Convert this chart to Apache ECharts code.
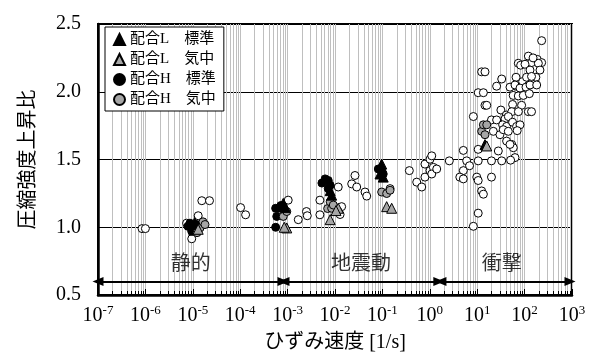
<!DOCTYPE html>
<html>
<head>
<meta charset="utf-8">
<script src="https://cdn.jsdelivr.net/npm/echarts@6/dist/echarts.min.js"></script>
<style>
  html, body { margin: 0; padding: 0; background: #fff; }
  #chart { width: 589px; height: 358px; }
</style>
</head>
<body>
<div id="chart"></div>
<script>
// Strain-rate dependence of compressive strength (ratio to static strength)

// Series names as shown in the legend
const nameLStd = '配合L　標準';
const nameLAir = '配合L　気中';
const nameHStd = '配合H　標準';
const nameHAir = '配合H　気中';

// [strain rate (1/s), strength ratio]
const mixLStd = [
  [1.1e-5, 1.035], [8.1e-4, 1.176], [9.0e-4, 1.145],
  [8.5e-3, 1.237], [7.9e-3, 1.27],
  [0.0966, 1.466], [0.089, 1.393], [0.104, 1.37],
  [14.6, 1.61]
];
const mixLAir = [
  [1.3e-5, 0.985], [9.6e-4, 0.995], [8.5e-4, 1.0],
  [7.9e-3, 1.056], [0.0117, 1.14], [0.0105, 1.123],
  [0.123, 1.152], [0.157, 1.14],
  [15.9, 1.6]
];
const mixHStd = [
  [7.9e-6, 1.007], [8.7e-6, 1.03], [9.5e-6, 0.97], [1.03e-5, 0.995], [1.21e-5, 1.02],
  [5.6e-4, 1.0], [5.6e-4, 1.14], [5.9e-4, 1.08], [6.4e-4, 1.14], [7.2e-4, 1.16],
  [5.3e-3, 1.326], [6.2e-3, 1.357], [7.2e-3, 1.345], [7.2e-3, 1.285], [7.9e-3, 1.31],
  [0.082, 1.43], [0.0966, 1.418], [0.104, 1.393]
];
const mixHAir = [
  [1.23e-5, 0.96], [1.42e-5, 0.995], [1.64e-5, 1.04], [1.81e-5, 1.02],
  [8.1e-4, 1.08], [9.6e-4, 1.116],
  [7.0e-3, 1.138], [7.9e-3, 1.188], [8.5e-3, 1.14], [9.2e-3, 1.164],
  [0.0966, 1.26], [0.123, 1.249], [0.145, 1.273],
  [12.4, 1.708], [13.5, 1.756], [14.6, 1.683], [15.9, 1.756]
];
// Published test results
const refData = [
  [8.5e-7, 0.99], [1.0e-6, 0.99],
  [7.4e-6, 1.03], [9.5e-6, 0.915], [1.3e-5, 1.085], [1.55e-5, 1.196], [2.25e-5, 1.196],
  [1.02e-4, 1.145], [1.3e-4, 1.092],
  [1.03e-3, 1.2], [1.68e-3, 1.056], [2.5e-3, 1.116], [2.6e-3, 1.085],
  [4.8e-3, 1.2], [4.8e-3, 1.092], [0.0117, 1.297], [0.0138, 1.152], [0.0117, 1.116], [0.0128, 1.094],
  [0.0225, 1.32], [0.0264, 1.382], [0.0287, 1.297], [0.043, 1.26], [0.0467, 1.23],
  [0.145, 1.285],
  [0.37, 1.418], [0.53, 1.333], [0.676, 1.297], [0.79, 1.37], [0.79, 1.466], [1.01, 1.502],
  [1.1, 1.527], [1.01, 1.418], [1.19, 1.442], [1.1, 1.393], [1.4, 1.43],
  [2.58, 1.49], [5.1, 1.567], [5.1, 1.418], [4.3, 1.37], [5.1, 1.357], [6.0, 1.49], [6.9, 1.454],
  [8.3, 1.817], [9.8, 1.37], [10.5, 1.345], [10.5, 1.575], [10.5, 1.49], [12.4, 1.268],
  [13.5, 1.244], [10.5, 1.104], [8.3, 1.007],
  [14.6, 1.9], [15.9, 1.9],
  [20, 1.37], [20, 1.49], [32.9, 1.49], [27.9, 1.563], [21.9, 1.708], [30.2, 1.683],
  [20, 1.792], [25.7, 1.792],
  [229, 2.377], [120, 2.263], [73.6, 2.21], [82.6, 2.196], [140, 2.215], [185, 2.239],
  [229, 2.215], [195, 2.21], [151, 2.25], [102, 2.203], [130, 2.16], [211, 2.16],
  [12.4, 2.147], [14.6, 2.147], [32.9, 2.094], [25.7, 2.041],
  [66, 2.107], [91, 2.075], [66, 2.041], [110, 2.107], [173, 2.107], [140, 2.113], [120, 2.046],
  [49.2, 2.034], [62.7, 2.05], [80, 2.027], [107, 2.034], [130, 2.05], [180, 2.05],
  [10.5, 1.993], [13.5, 1.993],
  [57.5, 1.973], [73.6, 1.969], [94, 1.973], [126, 1.986],
  [55.8, 1.906], [86.5, 1.9],
  [31.6, 1.865], [41, 1.828], [53.7, 1.853], [74, 1.853], [120, 1.853], [140, 1.853],
  [38.6, 1.8], [45.4, 1.817],
  [34.4, 1.756], [41.7, 1.744], [55.8, 1.775], [67.8, 1.744], [80, 1.756],
  [35.5, 1.72], [45.3, 1.708], [69.8, 1.713],
  [41.7, 1.636], [53.5, 1.611], [57.8, 1.587], [49.2, 1.611],
  [62.7, 1.514], [50.7, 1.495]
];

// Loading regimes: name, label position, strain-rate span
const regionNames = ['静的', '地震動', '衝撃'];
const regionCenters = [9.1e-6, 0.0355, 33];
const regionSpans = [[1e-7, 8.0e-4], [8.4e-4, 1.55], [1.72, 908]];
const regionLabelLevel = 0.72;
const regionArrowLevel = 0.6;

// Axis range: strain rate 10^-7 .. 10^3, decade exponents for the tick labels
const expMin = -7, expMax = 3;
const xMin = Math.pow(10, expMin), xMax = Math.pow(10, expMax);
const yMin = 0.5, yMax = 2.5, yStep = 0.5;

// Minor log grid values (2..9 in each decade)
const minorGrid = [];
for (let e = expMin; e < expMax; e++) {
  for (let m = 2; m <= 9; m++) minorGrid.push(+(m * Math.pow(10, e)).toPrecision(3));
}

const serif = "'Liberation Serif','Noto Sans CJK JP',serif";
const gray = '#a6a6a6';
const gridGray = '#bfbfbf';

const chart = echarts.init(document.getElementById('chart'), null, { renderer: 'canvas' });

function markSeries(name, data, symbol, size, fill) {
  return {
    name: name,
    type: 'scatter',
    xAxisIndex: 0,
    data: data,
    symbol: symbol,
    symbolSize: size,
    z: 3,
    itemStyle: { color: fill, borderColor: '#000', borderWidth: 1, opacity: 1 }
  };
}

chart.setOption({
  animation: false,
  backgroundColor: '#fff',
  grid: {
    left: 98, top: 24, width: 474, height: 276,
    show: true, borderColor: '#000', borderWidth: 2, backgroundColor: 'transparent'
  },
  legend: {
    left: 105, top: 27,
    orient: 'vertical',
    backgroundColor: '#fff',
    borderColor: '#000',
    borderWidth: 1,
    padding: [5, 8, 4, 8],
    itemGap: 5,
    itemWidth: 11,
    itemHeight: 11,
    textStyle: { fontFamily: serif, fontSize: 15, color: '#000', lineHeight: 15 },
    data: [
      { name: nameLStd, icon: 'triangle' },
      { name: nameLAir, icon: 'triangle' },
      { name: nameHStd, icon: 'circle' },
      { name: nameHAir, icon: 'circle' }
    ]
  },
  xAxis: [
    {
      // logarithmic strain-rate axis carrying the data
      type: 'log',
      logBase: 10,
      min: xMin,
      max: xMax,
      position: 'top',
      axisLine: { show: false },
      axisTick: { show: false },
      axisLabel: { show: false },
      splitLine: { show: false }
    },
    {
      // decade axis: labels 10^n, decade grid lines and ticks
      type: 'value',
      min: expMin,
      max: expMax,
      interval: 1,
      position: 'bottom',
      name: 'ひずみ速度 [1/s]',
      nameLocation: 'middle',
      nameGap: 38,
      nameTextStyle: { fontFamily: serif, fontSize: 20, color: '#000' },
      axisLine: { show: true, onZero: false, lineStyle: { color: '#000', width: 2.5 } },
      axisTick: { show: true, inside: true, length: 6, lineStyle: { color: '#000', width: 1 } },
      axisLabel: {
        margin: 9,
        interval: 0,
        formatter: v => '{b|10}{s|' + v + '}',
        rich: {
          b: { fontFamily: serif, fontSize: 20, color: '#000', lineHeight: 22, verticalAlign: 'bottom' },
          s: { fontFamily: serif, fontSize: 13, color: '#000', lineHeight: 22, verticalAlign: 'top' }
        }
      },
      splitLine: { show: true, lineStyle: { color: gridGray, width: 1 } }
    }
  ],
  yAxis: {
    type: 'value',
    min: yMin,
    max: yMax,
    interval: yStep,
    name: '圧縮強度上昇比',
    nameLocation: 'middle',
    nameRotate: 90,
    nameGap: 59,
    nameTextStyle: { fontFamily: serif, fontSize: 20, color: '#000' },
    axisLine: { show: true, onZero: false, lineStyle: { color: '#000', width: 2.5 } },
    axisTick: { show: false },
    axisLabel: {
      margin: 17,
      fontFamily: serif, fontSize: 20, color: '#000',
      formatter: v => v.toFixed(1)
    },
    splitLine: { show: true, lineStyle: { color: '#000', width: 1 } }
  },
  series: [
    {
      // minor log grid lines with short inward ticks
      name: 'minorGrid',
      type: 'custom',
      xAxisIndex: 0,
      silent: true,
      z: 1,
      data: minorGrid.map(v => [v, yMin]),
      encode: { x: 0, y: 1 },
      renderItem: (params, api) => {
        const v = api.value(0);
        const top = api.coord([v, yMax]);
        const bot = api.coord([v, yMin]);
        const x = Math.round(top[0]) + 0.5;
        return {
          type: 'group',
          children: [
            { type: 'line', shape: { x1: x, y1: top[1], x2: x, y2: bot[1] },
              style: { stroke: gridGray, lineWidth: 1 } },
            { type: 'line', shape: { x1: x, y1: bot[1], x2: x, y2: bot[1] - 4 },
              style: { stroke: '#000', lineWidth: 1 } }
          ]
        };
      }
    },
    markSeries('ref', refData, 'circle', 8, '#fff'),
    markSeries(nameHStd, mixHStd, 'circle', 8, '#000'),
    markSeries(nameHAir, mixHAir, 'circle', 8, gray),
    markSeries(nameLStd, mixLStd, 'triangle', 10, '#000'),
    markSeries(nameLAir, mixLAir, 'triangle', 10, gray),
    {
      name: 'regions',
      type: 'scatter',
      xAxisIndex: 0,
      silent: true,
      symbol: 'circle',
      symbolSize: 1,
      itemStyle: { color: 'rgba(0,0,0,0)' },
      data: regionNames.map((n, i) => [regionCenters[i], regionLabelLevel, n]),
      label: {
        show: true,
        position: 'inside',
        formatter: p => p.data[2],
        fontFamily: serif,
        fontSize: 20,
        color: '#000'
      },
      markLine: {
        silent: true,
        z: 4,
        animation: false,
        symbol: ['triangle', 'triangle'],
        symbolSize: [9, 11],
        label: { show: false },
        emphasis: { disabled: true },
        lineStyle: { color: '#000', width: 2, type: 'solid' },
        data: regionSpans.map(s => [
          { coord: [s[0], regionArrowLevel] },
          { coord: [s[1], regionArrowLevel] }
        ])
      }
    }
  ]
});
</script>
</body>
</html>
